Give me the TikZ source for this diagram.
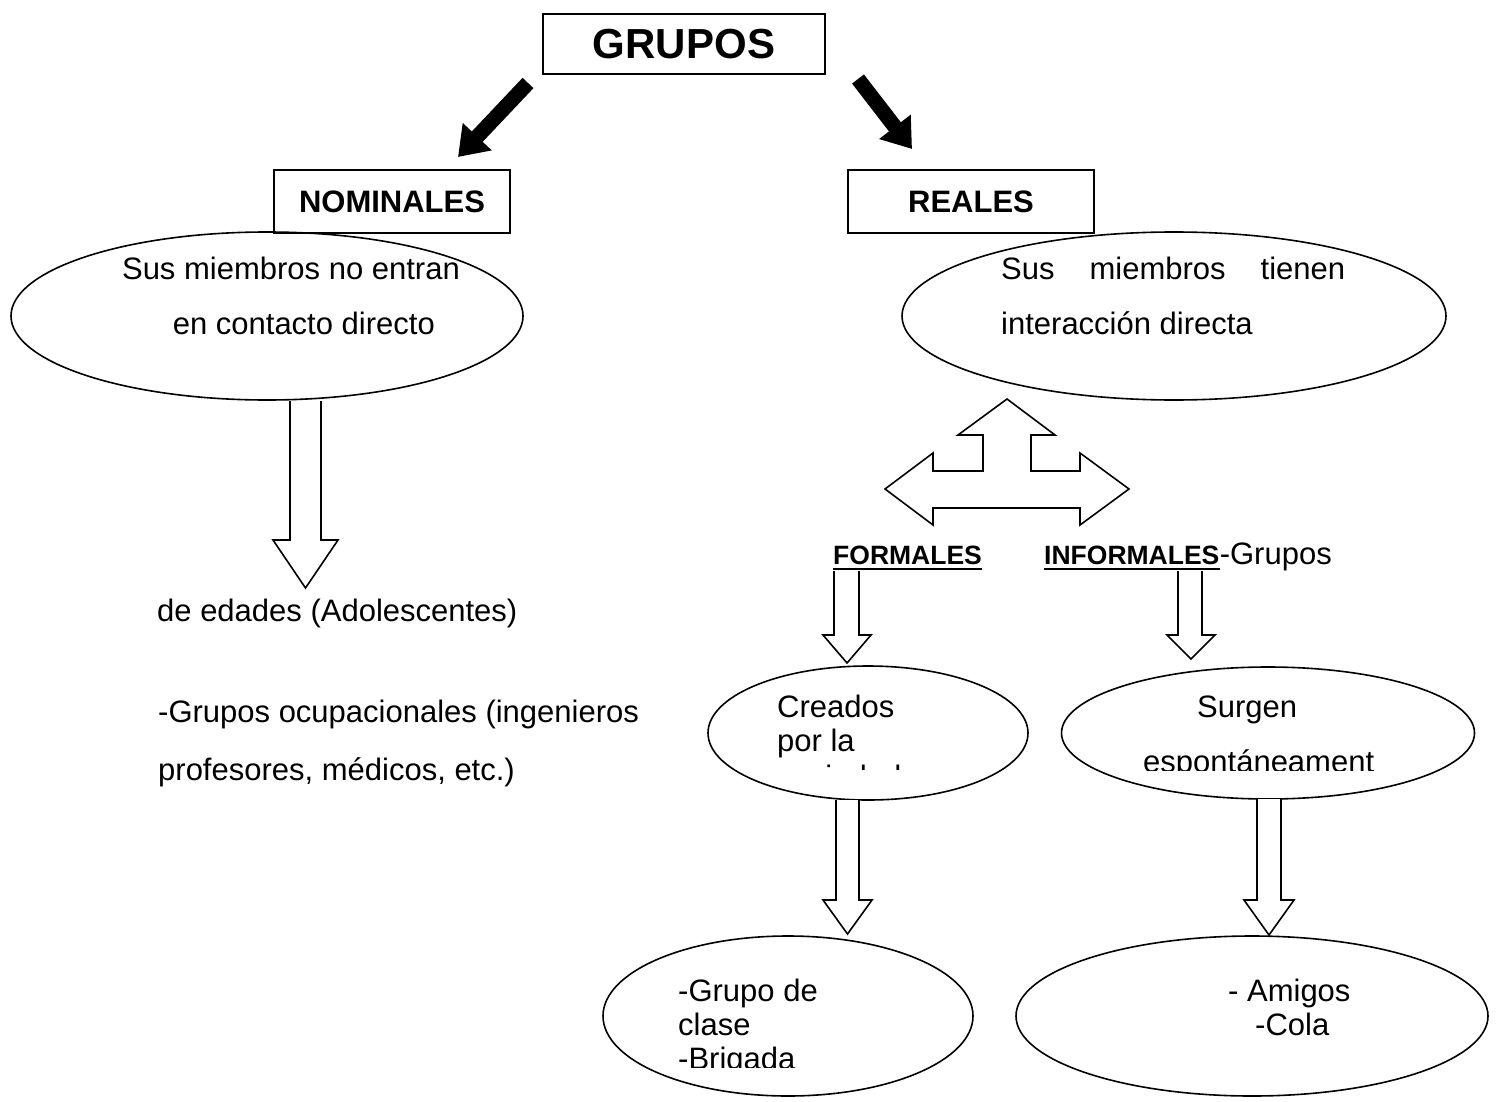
\documentclass[tikz,border=0pt]{standalone}
\usepackage{fontspec}
\setmainfont{Liberation Sans}
\usetikzlibrary{shapes.geometric,arrows.meta,calc}
\begin{document}
\begin{tikzpicture}[x=1pt,y=-1pt,
  txt/.style={inner sep=0pt, font=\fontsize{31}{37}\selectfont},
  lbl/.style={inner sep=0pt, font=\fontsize{31}{37}\selectfont\bfseries},
  sub/.style={inner sep=0pt, font=\fontsize{26.5}{32}\selectfont\bfseries},
  box/.style={draw, line width=1.6pt, inner sep=0pt},
  oval/.style={draw, ellipse, line width=1.6pt, inner sep=0pt},
  hollow/.style={draw, line width=1.6pt, fill=white, line join=miter},
  blackarrow/.style={line width=15pt, -{Triangle[length=28pt,width=38pt]}},
  uline/.style={line width=2.6pt}
]
\useasboundingbox (0,0) rectangle (1506,1102);
\fill[white] (0,0) rectangle (1506,1102);

% boxes
\node[box, minimum width=282pt, minimum height=60pt, font=\fontsize{42}{50}\selectfont\bfseries] (grupos) at (684,44) {GRUPOS};
\node[box, lbl, minimum width=236pt, minimum height=63pt] (nom) at (392,201.5) {NOMINALES};
\node[box, lbl, minimum width=246pt, minimum height=63pt] (rea) at (971,201.5) {REALES};

% black arrows
\coordinate (gL) at (528,83); \coordinate (nT) at (458,157);
\draw[blackarrow] (gL) -- (nT);
\coordinate (gR) at (858,79); \coordinate (rT) at (912,149);
\draw[blackarrow] (gR) -- (rT);

% ellipses
\node[oval, minimum width=512pt, minimum height=168pt] (nomE) at (267,316) {};
\node[oval, minimum width=544pt, minimum height=168pt] (reaE) at (1174,316) {};
\node[oval, minimum width=320pt, minimum height=134pt] (forE) at (868,733) {};
\node[oval, minimum width=413pt, minimum height=132pt] (infE) at (1268,733) {};
\node[oval, minimum width=370pt, minimum height=160pt] (brigE) at (788,1016) {};
\node[oval, minimum width=472pt, minimum height=160pt] (amiE) at (1252,1016) {};

% texts in top ellipses
\node[txt, anchor=base east] (t1) at (460,279) {Sus miembros no entran};
\node[txt, anchor=base east] (t2) at (435,334) {en contacto directo};
\node[txt, anchor=base west] (t3) at (1001,279) {\hbox to 344pt{Sus\hfill miembros\hfill tienen}};
\node[txt, anchor=base west] (t4) at (1001,334) {interacción directa};

% hollow arrows
\draw[hollow] (290,401) -- (290,540) -- (273,540) -- (305.5,588) -- (338,540) -- (321,540) -- (321,401);
\draw[hollow] (1007,399) -- (1055,435) -- (1031,435) -- (1031,471) -- (1080,471) -- (1080,453) -- (1129,489) -- (1080,525) -- (1080,508) -- (933,508) -- (933,525) -- (885,489) -- (933,453) -- (933,471) -- (983,471) -- (983,435) -- (958,435) -- cycle;
\draw[hollow] (834,571) -- (834,635) -- (823,635) -- (847,663) -- (871,635) -- (859,635) -- (859,571);
\draw[hollow] (1178,571) -- (1178,635) -- (1167,635) -- (1191,659) -- (1215,635) -- (1202,635) -- (1202,571);
\draw[hollow] (836,800) -- (836,900) -- (823,900) -- (847.5,934) -- (872,900) -- (859,900) -- (859,800);
\draw[hollow] (1257,799) -- (1257,900) -- (1244,900) -- (1269,935) -- (1294,900) -- (1281,900) -- (1281,799);

% formales / informales
\node[sub, anchor=base west] (for) at (833,564) {FORMALES};
\draw[uline] ([yshift=-5pt]for.base west) -- ([yshift=-5pt]for.base east);
\node[sub, anchor=base west] (inf) at (1044,564) {INFORMALES};
\draw[uline] ([yshift=-5pt]inf.base west) -- ([yshift=-5pt]inf.base east);
\node[txt, anchor=base west] (infg) at (inf.base east) {-Grupos};

% texts in middle ellipses
\node[txt, anchor=base west] (cr1) at (777,717) {Creados};
\node[txt, anchor=base west] (cr2) at (777,751) {por la};
\begin{scope}
\clip (700,600) rectangle (1040,769);
\node[txt, anchor=base west] (cr3) at (777,787) {sociedad};
\end{scope}
\node[txt, anchor=base west] (su1) at (1197,717) {Surgen};
\begin{scope}
\clip (1060,600) rectangle (1480,770);
\node[txt, anchor=base west] (su2) at (1143,772) {espontáneament};
\end{scope}

% bottom ellipses texts
\node[txt, anchor=base west] (b1) at (678,1001) {-Grupo de};
\node[txt, anchor=base west] (b2) at (678,1035) {clase};
\begin{scope}
\clip (600,1040) rectangle (980,1067);
\node[txt, anchor=base west] (b3) at (678,1069) {-Brigada};
\end{scope}
\node[txt, anchor=base west] (a1) at (1228,1001) {- Amigos};
\node[txt, anchor=base west] (a2) at (1255,1035) {-Cola};

% left column
\node[txt, anchor=base west] (l1) at (157,621) {de edades (Adolescentes)};
\node[txt, anchor=base west] (l2) at (158,722) {-Grupos ocupacionales (ingenieros};
\node[txt, anchor=base west] (l3) at (158,780) {profesores, médicos, etc.)};
\end{tikzpicture}
\end{document}
